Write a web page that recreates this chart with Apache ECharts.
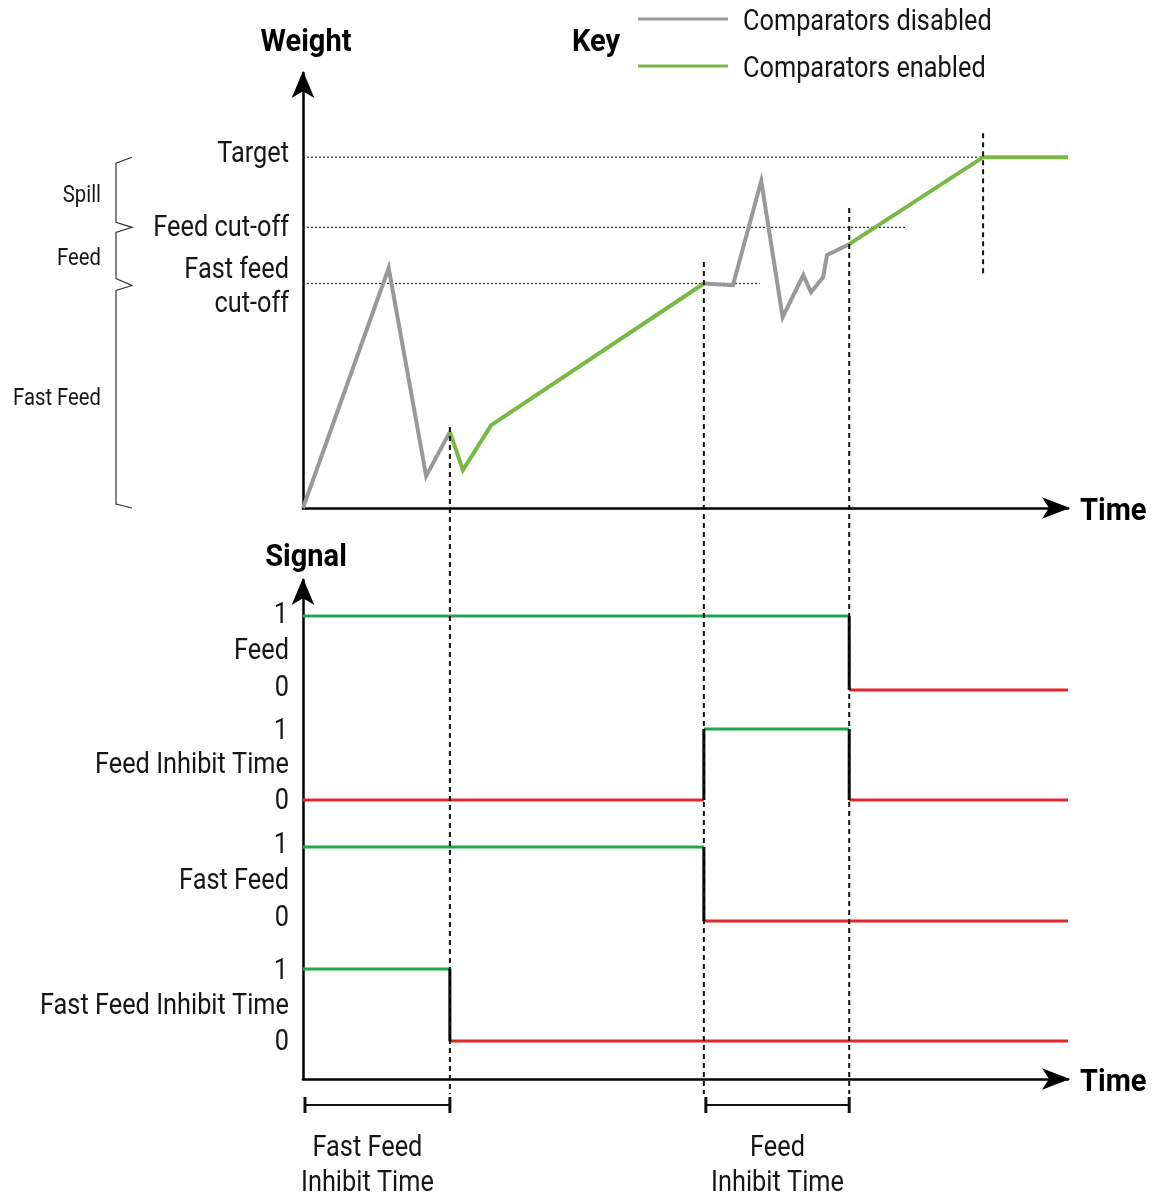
<!DOCTYPE html>
<html>
<head>
<meta charset="utf-8">
<title>Comparator timing</title>
<script src="https://cdn.jsdelivr.net/npm/echarts@6/dist/echarts.min.js"></script>
<style>
  html, body { margin: 0; padding: 0; background: #fff; }
  #chart { width: 1162px; height: 1194px; }
</style>
</head>
<body>
<div id="chart"></div>
<script>
// ---- Data -------------------------------------------------------------
// Time runs 0..100 across both panels; weight is given as % of target.
const timeRange = [0, 100];
const weightAxisMax = 124;
const weightLevels = [100, 80, 64];
const weightLevelLabels = ['Target', 'Feed cut-off', 'Fast feed\ncut-off'];
const levelLineEnds = [88.9, 78.8, 59.7];

// Weight trace, split where the comparators switch between disabled / enabled
const disabledTrace1 = [[0, 0], [11.2, 68.4], [16.1, 9.1], [19.2, 21.7]];
const enabledTrace1 = [[19.2, 21.7], [20.9, 10.8], [24.6, 23.6], [52.4, 64]];
const disabledTrace2 = [[52.4, 64], [56.2, 63.5], [59.9, 93.2], [62.7, 54.4], [65.4, 66.4],
                        [66.4, 61.5], [68.0, 65.8], [68.5, 72.1], [71.4, 75.2]];
const enabledTrace2 = [[71.4, 75.2], [88.9, 100], [100, 100]];

// Event markers: time, upper end (weight), lower end (weight; null = runs down through the signals)
const markerTimes = [19.2, 52.4, 71.4, 88.9];
const markerTops = [23.1, 70.1, 85.5, 106.8];
const markerBottoms = [null, null, null, 65.8];

// Weight bands beside the weight axis
const bandNames = ['Spill', 'Feed', 'Fast Feed'];
const bandBounds = [[80, 100], [64, 80], [0, 64]];

// Output signals: [time, state] steps
const signalNames = ['Feed', 'Feed Inhibit Time', 'Fast Feed', 'Fast Feed Inhibit Time'];
const signalStateLabels = ['0', '1'];
const feedSteps = [[0, 1], [71.4, 0]];
const feedInhibitSteps = [[0, 0], [52.4, 1], [71.4, 0]];
const fastFeedSteps = [[0, 1], [52.4, 0]];
const fastFeedInhibitSteps = [[0, 1], [19.2, 0]];
const signalSteps = [feedSteps, feedInhibitSteps, fastFeedSteps, fastFeedInhibitSteps];

// Inhibit-time spans shown under the time axis
const inhibitSpans = [[0, 19.2], [52.4, 71.4]];
const inhibitLabels = ['Fast Feed\nInhibit Time', 'Feed\nInhibit Time'];

const legendNames = ['Comparators disabled', 'Comparators enabled'];

// ---- Styling / layout -------------------------------------------------
const FONT = 'Roboto';
const INK = '#161616';
const GRAY = '#999999';
const GREEN = '#78b843';
const SIG_ON = '#1fa84d';
const SIG_OFF = '#e6242b';

const PLOT_LEFT = 303, PLOT_WIDTH = 765;
const signalRows = [[616, 690], [729, 800], [847, 921], [969, 1041]];
const signalLabelDy = [-1.5, 1.5, -2.5, 1.5];
const levelLabelDy = [-5, -1, 2];
const TEXT_DROP = 2.5;   // Roboto's em-box middle sits a little above its cap centre

// The lettering is a condensed face: draw Roboto squeezed horizontally.
const measureCtx = document.createElement('canvas').getContext('2d');
function measure(str, size, weight) {
  measureCtx.font = (weight || 'normal') + ' ' + size + 'px ' + FONT;
  return measureCtx.measureText(str).width;
}
const SQUEEZE = 249 / measure('Fast Feed Inhibit Time', 30);
const SQUEEZE_BOLD = 91 / measure('Weight', 32, 'bold');

function arrowLine(len, wid) {
  return {
    show: true, onZero: false,
    symbol: ['none', 'arrow'], symbolSize: [wid, len], symbolOffset: [0, 2],
    lineStyle: { color: '#000', width: 2.5 }
  };
}
const hidden = { show: false };

const grids = [
  { left: PLOT_LEFT, top: 73, width: PLOT_WIDTH, height: 435 },
  { left: PLOT_LEFT, top: 580, width: PLOT_WIDTH, height: 499 }
].concat(signalRows.map(r => ({ left: PLOT_LEFT, top: r[0], width: PLOT_WIDTH, height: r[1] - r[0] })));
grids.forEach(g => { g.outerBoundsMode = 'none'; g.containLabel = false; });

const xAxes = [0, 1].map(gi => ({
  gridIndex: gi, type: 'value', min: timeRange[0], max: timeRange[1],
  axisLine: arrowLine(28, 16), axisTick: hidden, axisLabel: hidden, splitLine: hidden
})).concat(signalNames.map((n, i) => ({
  gridIndex: i + 2, type: 'value', min: timeRange[0], max: timeRange[1], show: false
})));

const yAxes = [
  { gridIndex: 0, type: 'value', min: 0, max: weightAxisMax,
    axisLine: arrowLine(27, 17), axisTick: hidden, splitLine: hidden, axisLabel: hidden },
  { gridIndex: 1, type: 'value', min: 0, max: 1,
    axisLine: arrowLine(27, 17), axisTick: hidden, splitLine: hidden, axisLabel: hidden }
].concat(signalNames.map((n, i) => ({
  gridIndex: i + 2, type: 'value', min: 0, max: 1, show: false
})));

const series = [];
function addLine(data, axisIndex, lineStyle, z) {
  series.push({
    type: 'line', xAxisIndex: axisIndex, yAxisIndex: axisIndex, data: data,
    symbol: 'none', silent: true, clip: false, z: z || 2,
    lineStyle: Object.assign({ cap: 'butt', join: 'miter' }, lineStyle),
    emphasis: { disabled: true }
  });
}

// dotted reference levels
weightLevels.forEach((lv, i) => {
  addLine([[timeRange[0], lv], [levelLineEnds[i], lv]], 0, { color: '#222', width: 1.2, type: [2, 2] }, 1);
});
// weight trace
addLine(disabledTrace1, 0, { color: GRAY, width: 4 }, 3);
addLine(disabledTrace2, 0, { color: GRAY, width: 4 }, 3);
addLine(enabledTrace1, 0, { color: GREEN, width: 4 }, 4);
addLine(enabledTrace2, 0, { color: GREEN, width: 4 }, 4);

// signal traces
signalSteps.forEach((steps, s) => {
  const gi = s + 2;
  steps.forEach((st, k) => {
    const t0 = st[0];
    const t1 = k + 1 < steps.length ? steps[k + 1][0] : timeRange[1];
    addLine([[t0, st[1]], [t1, st[1]]], gi, { color: st[1] ? SIG_ON : SIG_OFF, width: 3 }, 3);
    if (k > 0) {
      addLine([[t0, steps[k - 1][1]], [t0, st[1]]], gi, { color: '#000', width: 3 }, 4);
    }
  });
});

const option = {
  animation: false,
  backgroundColor: '#fff',
  textStyle: { fontFamily: FONT },
  grid: grids,
  xAxis: xAxes,
  yAxis: yAxes,
  series: series
};

const chart = echarts.init(document.getElementById('chart'), null, { renderer: 'canvas' });
chart.setOption(option);

// ---- Annotations placed through the axes' own scales ----------------------
const toPx = (gi, t, v) => chart.convertToPixel({ gridIndex: gi }, [t, v]);
const graphics = [];

function label(text, x, y, size, align, opts) {
  opts = opts || {};
  graphics.push({
    type: 'text', silent: true, x: x, y: y + TEXT_DROP, z: 20,
    scaleX: opts.bold ? SQUEEZE_BOLD : SQUEEZE,
    style: {
      text: text, fontSize: size, fontFamily: FONT, fontWeight: opts.bold ? 'bold' : 'normal',
      fill: opts.bold ? '#000' : INK, align: align, verticalAlign: opts.valign || 'middle',
      lineHeight: opts.lineHeight || size
    }
  });
}

// axis titles
const wEnd = toPx(0, timeRange[0], weightAxisMax);
label('Weight', wEnd[0] + 3, wEnd[1] - 33, 32, 'center', { bold: true });
const sEnd = toPx(1, timeRange[0], 1);
label('Signal', sEnd[0] + 3, sEnd[1] - 25, 32, 'center', { bold: true });
[0, 1].forEach(gi => {
  const p = toPx(gi, timeRange[1], 0);
  label('Time', p[0] + 12, p[1] + 1, 32, 'left', { bold: true });
});

// weight level names
weightLevels.forEach((lv, i) => {
  const p = toPx(0, timeRange[0], lv);
  label(weightLevelLabels[i], p[0] - 14, p[1] + levelLabelDy[i], 30, 'right', { lineHeight: 34 });
});

// signal names and 0 / 1 states
signalNames.forEach((nm, s) => {
  const gi = s + 2;
  const dy = signalLabelDy[s];
  const p1 = toPx(gi, timeRange[0], 1), p0 = toPx(gi, timeRange[0], 0);
  label(signalStateLabels[1], p1[0] - 15, p1[1] - 2 + dy, 30, 'right');
  label(nm, p1[0] - 14, (p0[1] + p1[1]) / 2 - 3 + dy, 30, 'right');
  label(signalStateLabels[0], p0[0] - 14, p0[1] - 3 + dy, 30, 'right');
});

// vertical event markers
markerTimes.forEach((t, i) => {
  const top = toPx(0, t, markerTops[i]);
  const bottomY = markerBottoms[i] == null ? toPx(1, t, 0)[1] + 15 : toPx(0, t, markerBottoms[i])[1];
  graphics.push({
    type: 'line', silent: true, z: 10,
    shape: { x1: top[0], y1: top[1], x2: top[0], y2: bottomY },
    style: { stroke: '#111', lineWidth: 2, lineDash: [5, 4] }
  });
});

// band braces beside the weight axis
(function () {
  const y = v => toPx(0, 0, v)[1];
  const sx = 116, tx = 132;
  const y100 = y(100), y80 = y(80), y64 = y(64), y0 = y(0);
  graphics.push({
    type: 'polyline', silent: true,
    shape: { points: [[tx, y100], [sx, y100 + 6], [sx, y80 - 5], [tx, y80], [sx, y80 + 5],
                      [sx, y64 - 5], [tx, y64 + 2], [sx, y64 + 7], [sx, y0 - 4], [tx, y0]] },
    style: { stroke: '#333', lineWidth: 1.2, fill: null }
  });
  bandNames.forEach((nm, i) => {
    const cy = (y(bandBounds[i][0]) + y(bandBounds[i][1])) / 2;
    label(nm, 101, cy + 1, 24, 'right');
  });
})();

// key
label('Key', 596, 40, 32, 'center', { bold: true });
[GRAY, GREEN].forEach((c, i) => {
  const ly = 19 + i * 47;
  graphics.push({
    type: 'line', silent: true,
    shape: { x1: 638, y1: ly, x2: 728, y2: ly },
    style: { stroke: c, lineWidth: 3 }
  });
  label(legendNames[i], 743, ly + 1, 30, 'left');
});

// inhibit-time spans under the signal time axis
inhibitSpans.forEach((sp, i) => {
  const a = toPx(1, sp[0], 0), b = toPx(1, sp[1], 0);
  const x1 = a[0] + 2, x2 = b[0];
  const by = a[1] + 26;
  graphics.push({ type: 'line', silent: true, shape: { x1: x1, y1: by, x2: x2, y2: by }, style: { stroke: '#111', lineWidth: 2 } });
  graphics.push({ type: 'line', silent: true, shape: { x1: x1, y1: by - 8, x2: x1, y2: by + 8 }, style: { stroke: '#111', lineWidth: 3 } });
  graphics.push({ type: 'line', silent: true, shape: { x1: x2, y1: by - 8, x2: x2, y2: by + 8 }, style: { stroke: '#111', lineWidth: 3 } });
  const cx = i === 0 ? (x1 + x2) / 2 - 10 : (x1 + x2) / 2;
  label(inhibitLabels[i], cx, by + 58, 30, 'center', { lineHeight: 35 });
});

chart.setOption({ graphic: graphics });
</script>
</body>
</html>
